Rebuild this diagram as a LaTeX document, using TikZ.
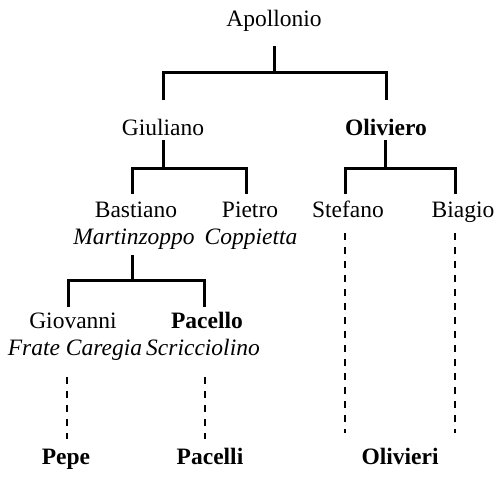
\documentclass[tikz,border=0pt]{standalone}
\usepackage{fontspec}
\setmainfont{Liberation Serif}
\usetikzlibrary{positioning}

\begin{document}
\begin{tikzpicture}[
    x=1pt, y=-1pt,
    nm/.style={anchor=base, inner sep=0pt, font=\fontsize{23.5}{27}\selectfont},
    nk/.style={nm, font=\fontsize{23.5}{27}\selectfont\itshape},
    bd/.style={nm, font=\fontsize{23.5}{27}\selectfont\bfseries},
    bar/.style={line width=3pt, black},
    dsh/.style={line width=2pt, black, dash pattern=on 7pt off 7pt},
]
\useasboundingbox (0,0) rectangle (500,477);
% names
\node[nm] (apo) at (274,26) {Apollonio};
\node[nm] (giu) at (163,135) {Giuliano};
\node[bd] (oli) at (386,135) {Oliviero};
\node[nm] (bas) at (136,217) {Bastiano};
\node[nk] (basN) at (134,244) {Martinzoppo};
\node[nm] (pie) at (250,217) {Pietro};
\node[nk] (pieN) at (251,244) {Coppietta};
\node[nm] (ste) at (348,217) {Stefano};
\node[nm] (bia) at (463,217) {Biagio};
\node[nm] (gio) at (73,328) {Giovanni};
\node[nk] (gioN) at (75,355) {Frate Caregia};
\node[bd] (pac) at (207,328) {Pacello};
\node[nk] (pacN) at (203,355) {Scricciolino};
\node[bd] (pep) at (66,464) {Pepe};
\node[bd] (pcl) at (210,464) {Pacelli};
\node[bd] (olv) at (400,464) {Olivieri};
% family bars
\draw[bar] ([yshift=-20pt]apo.base) -- ++(0,26) coordinate (j0);
\draw[bar] ([yshift=35pt]giu.base) |- (j0) -| ([yshift=35pt]oli.base);
\draw[bar] ([yshift=-5pt]giu.base) -- ++(0,28) coordinate (j1);
\draw[bar] ([xshift=-4pt,yshift=23pt]bas.base) |- (j1) -| ([xshift=-4pt,yshift=23pt]pie.base);
\draw[bar] ([xshift=-1pt,yshift=-5pt]oli.base) -- ++(0,28) coordinate (j2);
\draw[bar] ([xshift=-3pt,yshift=23pt]ste.base) |- (j2) -| ([xshift=-8pt,yshift=23pt]bia.base);
\draw[bar] ([xshift=-2pt,yshift=-11pt]basN.base) -- ++(0,25) coordinate (j3);
\draw[bar] ([xshift=-5pt,yshift=21pt]gio.base) |- (j3) -| ([xshift=-3pt,yshift=21pt]pac.base);
% descendants
\draw[dsh] ([xshift=-8pt,yshift=-22pt]gioN.base) -- ([xshift=1pt,yshift=25pt]pep.base);
\draw[dsh] ([xshift=2pt,yshift=-22pt]pacN.base) -- ([xshift=-5pt,yshift=25pt]pcl.base);
\draw[dsh] ([xshift=-3pt,yshift=-16pt]ste.base) -- ([xshift=-3pt,yshift=31pt]ste.base |- olv.base);
\draw[dsh] ([xshift=-8pt,yshift=-16pt]bia.base) -- ([xshift=-8pt,yshift=31pt]bia.base |- olv.base);
\end{tikzpicture}
\end{document}
